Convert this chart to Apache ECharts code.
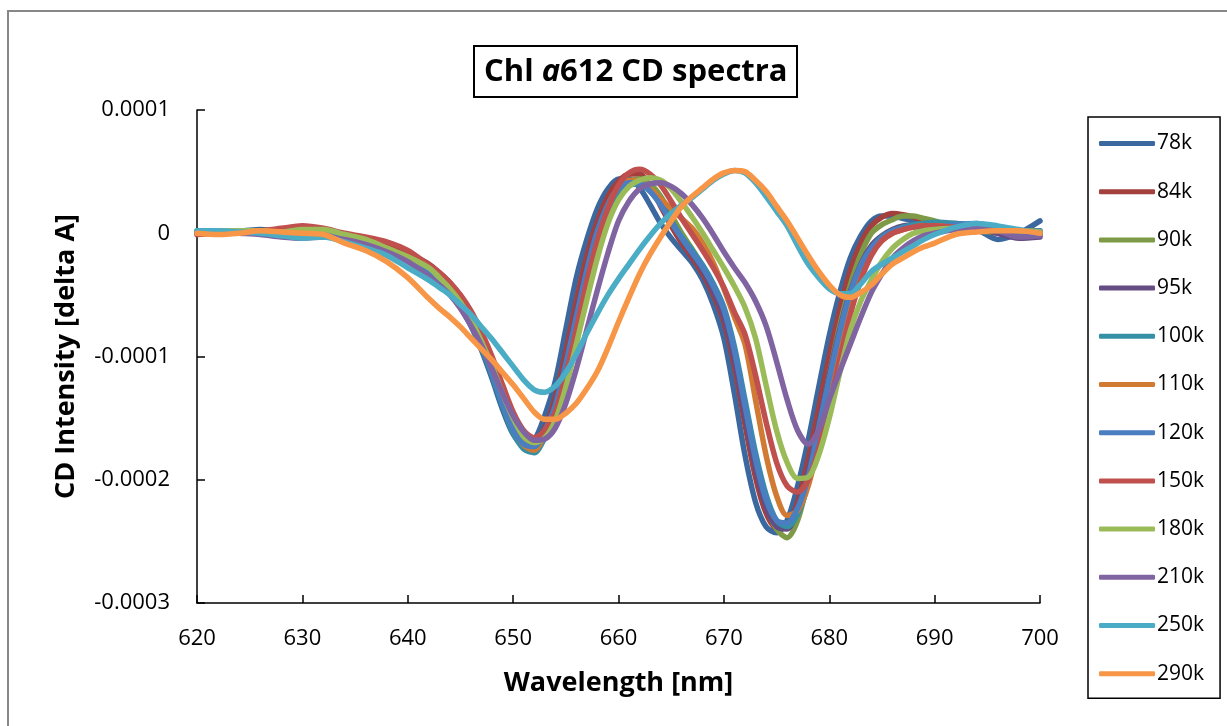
<!DOCTYPE html>
<html>
<head>
<meta charset="utf-8">
<script src="https://cdn.jsdelivr.net/npm/echarts@6/dist/echarts.min.js"></script>
<style>
html,body{margin:0;padding:0;background:#fff;}
#chart{width:1227px;height:726px;}
</style>
</head>
<body>
<div id="chart"></div>
<script>
// Wavelength [nm]
const wavelengths = [620,622,624,626,628,630,632,634,636,638,640,642,
  643,644,645,646,647,648,649,650,
  651,652,653,654,655,656,657,658,659,660,
  661,662,663,664,665,666,667,668,669,670,
  671,672,673,674,675,676,677,678,679,680,
  681,682,683,684,685,686,687,688,689,690,
  692,694,696,698,700];
// CD intensity values in units of 1e-5 delta A
const s78 = [0.1,0.2,0.2,0.3,0.1,0.1,0.0,-0.3,-0.7,-1.3,-2.1,-3.2,
  -4.0,-4.8,-6.0,-7.5,-9.5,-11.8,-14.3,-16.3,
  -17.2,-16.8,-14.8,-12.0,-7.8,-3.6,-0.5,2.0,3.6,4.4,
  4.4,3.7,2.3,0.8,-0.4,-1.4,-2.4,-3.8,-5.8,-8.5,
  -13.0,-18.0,-21.8,-23.8,-24.3,-23.3,-20.5,-16.8,-12.5,-8.3,
  -4.8,-2.0,-0.2,1.0,1.4,1.4,1.2,1.0,0.8,0.7,
  0.5,0.3,-0.5,0.0,1.0];
const s84 = [0.0,0.1,0.2,0.2,0.2,0.4,0.3,-0.1,-0.4,-0.8,-1.6,-2.5,
  -3.2,-4.0,-5.1,-6.6,-8.4,-10.6,-13.0,-15.3,
  -16.7,-17.0,-15.8,-13.3,-9.6,-5.5,-1.8,1.0,3.0,4.2,
  4.8,4.8,3.8,2.2,0.6,-0.8,-2.0,-3.3,-5.0,-7.2,
  -10.8,-15.5,-19.8,-22.7,-23.9,-23.8,-21.8,-18.3,-14.2,-10.0,
  -6.2,-3.0,-0.8,0.6,1.3,1.6,1.5,1.3,1.0,0.8,
  0.6,0.4,0.0,-0.2,0.0];
const s90 = [0.1,0.1,0.2,0.1,0.2,0.3,0.2,-0.2,-0.6,-1.2,-1.9,-2.8,
  -3.5,-4.4,-5.5,-6.8,-8.6,-10.8,-13.2,-15.5,
  -17.0,-17.4,-16.3,-14.2,-11.0,-7.0,-3.2,-0.2,2.0,3.5,
  4.2,4.4,4.0,3.0,1.5,0.0,-1.3,-2.7,-4.3,-6.3,
  -9.5,-14.0,-18.5,-22.0,-24.0,-24.7,-23.3,-20.0,-15.8,-11.5,
  -7.5,-4.2,-1.7,0.0,0.7,1.1,1.4,1.4,1.2,1.0,
  0.5,0.2,0.1,0.2,0.2];
const s95 = [0.0,0.1,0.1,0.2,0.0,0.1,-0.1,-0.4,-0.8,-1.4,-2.2,-3.3,
  -4.0,-4.8,-5.9,-7.3,-9.1,-11.3,-13.6,-15.8,
  -17.0,-17.3,-16.0,-13.8,-10.5,-6.5,-2.8,0.3,2.4,3.7,
  4.2,4.1,3.5,2.5,1.0,-0.4,-1.7,-3.0,-4.7,-6.8,
  -10.2,-14.8,-19.0,-22.2,-23.8,-24.0,-22.3,-19.3,-15.5,-11.5,
  -7.8,-4.7,-2.5,-1.0,-0.2,0.3,0.6,0.7,0.8,0.8,
  0.8,0.5,0.0,-0.4,-0.3];
const s100 = [0.2,0.2,0.1,0.1,0.0,0.0,-0.1,-0.3,-0.7,-1.3,-2.2,-3.3,
  -4.1,-4.9,-6.0,-7.5,-9.3,-11.5,-14.0,-16.2,
  -17.5,-17.8,-16.6,-14.6,-11.3,-7.5,-3.7,-0.6,1.7,3.2,
  3.9,4.0,3.4,2.4,1.0,-0.3,-1.4,-2.6,-4.1,-6.0,
  -9.2,-13.5,-17.8,-21.2,-23.3,-23.8,-22.8,-20.3,-16.3,-12.0,
  -8.2,-5.0,-2.7,-1.2,-0.3,0.2,0.5,0.7,0.8,0.9,
  0.8,0.6,0.3,0.0,0.0];
const s110 = [0.0,0.1,0.2,0.2,0.3,0.3,0.2,-0.3,-0.7,-1.2,-2.0,-3.0,
  -3.8,-4.6,-5.7,-7.0,-8.8,-11.0,-13.5,-15.7,
  -17.2,-17.6,-16.3,-14.3,-11.0,-7.0,-3.2,0.0,2.3,3.7,
  4.3,4.2,3.6,2.8,2.0,1.2,0.4,-0.8,-2.4,-4.5,
  -6.8,-9.0,-13.5,-18.0,-21.3,-22.9,-22.5,-20.5,-17.0,-12.8,
  -8.8,-5.5,-3.0,-1.5,-0.6,0.0,0.3,0.5,0.6,0.6,
  0.6,0.4,0.2,0.0,-0.1];
const s120 = [0.1,0.2,0.2,0.1,0.1,0.2,0.0,-0.3,-0.7,-1.3,-2.1,-3.2,
  -3.9,-4.7,-5.8,-7.2,-9.1,-11.3,-13.8,-15.9,
  -17.1,-17.3,-16.0,-14.0,-10.6,-6.8,-3.0,0.2,2.3,3.6,
  4.1,4.1,3.4,2.3,0.9,-0.4,-1.6,-2.8,-4.3,-6.2,
  -9.5,-14.0,-18.3,-21.6,-23.3,-23.5,-22.3,-19.8,-15.8,-11.8,
  -8.0,-4.8,-2.6,-1.2,-0.4,0.2,0.4,0.5,0.5,0.5,
  0.7,0.8,0.4,0.0,0.2];
const s150 = [-0.1,0.0,0.1,0.2,0.4,0.6,0.4,0.0,-0.3,-0.7,-1.4,-2.6,
  -3.2,-4.0,-5.0,-6.3,-8.0,-10.0,-12.3,-14.5,
  -16.0,-16.6,-16.0,-14.5,-11.5,-7.8,-3.9,-0.6,2.0,3.9,
  4.9,5.2,4.8,3.9,2.6,1.2,-0.1,-1.4,-2.8,-4.4,
  -6.4,-8.2,-11.5,-15.3,-18.6,-20.5,-21.0,-20.0,-17.5,-14.0,
  -10.2,-6.6,-3.8,-1.8,-0.6,0.0,0.3,0.5,0.6,0.6,
  0.5,0.6,0.4,0.2,0.0];
const s180 = [0.1,0.2,0.2,0.2,0.1,0.3,0.3,-0.1,-0.5,-1.2,-1.9,-2.8,
  -3.6,-4.5,-5.6,-7.0,-8.8,-10.8,-13.0,-15.0,
  -16.5,-17.0,-16.6,-15.2,-12.5,-9.0,-5.4,-2.0,0.8,2.7,
  3.8,4.3,4.5,4.3,3.6,2.5,1.3,0.0,-1.4,-2.8,
  -4.3,-6.0,-8.5,-12.3,-16.0,-18.6,-19.9,-19.8,-18.0,-15.0,
  -11.3,-7.9,-5.5,-3.8,-2.3,-1.2,-0.5,0.0,0.2,0.3,
  0.4,0.3,0.3,0.2,0.1];
const s210 = [0.0,0.1,0.0,-0.1,-0.3,-0.4,-0.3,-0.5,-0.9,-1.5,-2.3,-3.5,
  -4.2,-5.0,-6.1,-7.5,-9.1,-11.0,-13.0,-14.8,
  -16.1,-16.8,-16.7,-15.8,-13.8,-11.0,-7.8,-4.6,-1.6,1.0,
  2.6,3.6,4.0,4.1,3.8,3.2,2.3,1.2,-0.1,-1.5,
  -2.8,-4.0,-5.5,-7.5,-10.4,-13.5,-16.0,-17.1,-16.0,-13.5,
  -11.2,-9.0,-6.8,-4.8,-3.3,-2.0,-1.2,-0.6,-0.2,0.0,
  0.3,0.4,0.2,-0.3,-0.2];
const s250 = [0.2,0.2,0.1,0.0,-0.2,-0.4,-0.3,-0.7,-1.2,-1.8,-2.8,-3.8,
  -4.4,-5.0,-5.8,-6.6,-7.6,-8.6,-9.7,-10.8,
  -11.9,-12.7,-12.9,-12.4,-11.3,-9.8,-8.1,-6.5,-5.0,-3.7,
  -2.5,-1.3,-0.2,0.8,1.6,2.3,2.9,3.6,4.3,4.8,
  5.1,4.9,4.1,3.0,1.8,0.6,-1.0,-2.5,-3.6,-4.5,
  -4.9,-4.9,-4.1,-3.1,-2.5,-2.0,-1.5,-1.0,-0.5,-0.1,
  0.5,0.8,0.6,0.3,0.0];
const s290 = [0.0,-0.1,0.0,0.2,0.1,0.0,-0.1,-0.8,-1.4,-2.3,-3.6,-5.3,
  -6.1,-6.8,-7.6,-8.5,-9.4,-10.3,-11.3,-12.3,
  -13.4,-14.5,-15.1,-15.1,-14.6,-13.8,-12.6,-11.2,-9.3,-7.2,
  -5.2,-3.3,-1.7,-0.3,1.0,2.2,3.0,3.7,4.4,4.9,
  5.1,5.0,4.3,3.4,2.2,1.0,-0.4,-1.8,-3.1,-4.2,
  -5.0,-5.2,-4.8,-4.2,-3.3,-2.5,-2.0,-1.5,-1.1,-0.8,
  -0.1,0.1,0.2,0.2,0.0];

const seriesNames = ['78k','84k','90k','95k','100k','110k','120k','150k','180k','210k','250k','290k'];
const seriesValues = [s78,s84,s90,s95,s100,s110,s120,s150,s180,s210,s250,s290];
const seriesColors = ['#3c68a0','#a33f3c','#7f9a47','#644d83','#358fa5','#d07a34','#4a7ec0','#c0504d','#9bbb59','#8064a2','#4bacc6','#f79646'];

const xTicks = [620,630,640,650,660,670,680,690,700];
const yTickValues = [10,0,-10,-20,-30];
const yTickLabels = ['0.0001','0','-0.0001','-0.0002','-0.0003'];

const FONT = "'Open Sans','Noto Sans','Liberation Sans',sans-serif";

const chart = echarts.init(document.getElementById('chart'), null, {renderer:'canvas'});

const series = seriesNames.map((name, k) => ({
  name: name,
  type: 'line',
  smooth: 0.3,
  symbol: 'none',
  data: wavelengths.map((w, i) => [w, seriesValues[k][i]]),
  lineStyle: {width: 5.5, color: seriesColors[k], cap: 'round', join: 'round'},
  itemStyle: {color: seriesColors[k]},
  emphasis: {disabled: true},
  z: 2 + k
}));

chart.setOption({
  animation: false,
  backgroundColor: '#ffffff',
  title: {
    text: '{b|Chl }{i|a}{b|612 CD spectra}',
    left: 474, top: 42,
    borderColor: '#000', borderWidth: 2,
    padding: [11, 10, 10, 10],
    textStyle: {
      rich: {
        b: {fontFamily: FONT, fontWeight: 'bold', fontSize: 31, color: '#000', lineHeight: 38},
        i: {fontFamily: FONT, fontWeight: 'bold', fontStyle: 'italic', fontSize: 31, color: '#000', lineHeight: 38}
      }
    }
  },
  legend: {
    orient: 'vertical',
    left: 1088, top: 117,
    data: seriesNames,
    icon: 'roundRect',
    itemWidth: 56, itemHeight: 5,
    itemGap: 27.2,
    padding: [16, 16, 14, 11],
    borderColor: '#000', borderWidth: 1.5,
    textStyle: {fontFamily: FONT, fontSize: 21, color: '#000', lineHeight: 20, padding: [0,0,0,-3]}
  },
  grid: {left: 197, top: 110, right: 187, bottom: 123, containLabel: false},
  xAxis: {
    type: 'value', min: 620, max: 700, interval: 10,
    name: 'Wavelength [nm]', nameLocation: 'middle', nameGap: 67,
    nameTextStyle: {fontFamily: FONT, fontWeight: 'bold', fontSize: 27, color: '#000'},
    axisLine: {show: true, onZero: false, lineStyle: {color: '#000', width: 1.5}},
    axisTick: {show: true, inside: true, length: 8, lineStyle: {color: '#000', width: 1.5}},
    axisLabel: {fontFamily: FONT, fontSize: 22, color: '#000', margin: 25,
      formatter: v => xTicks.indexOf(v) >= 0 ? String(v) : ''},
    splitLine: {show: false}
  },
  yAxis: {
    type: 'value', min: -30, max: 10, interval: 10,
    name: 'CD Intensity [delta A]', nameLocation: 'middle', nameGap: 117, nameRotate: 90,
    nameTextStyle: {fontFamily: FONT, fontWeight: 'bold', fontSize: 27, color: '#000'},
    axisLine: {show: true, lineStyle: {color: '#000', width: 1.5}},
    axisTick: {show: true, inside: true, length: 8, lineStyle: {color: '#000', width: 1.5}},
    axisLabel: {fontFamily: FONT, fontSize: 22, color: '#000', margin: 27,
      formatter: v => { const idx = yTickValues.indexOf(Math.round(v)); return idx >= 0 ? yTickLabels[idx] : ''; }},
    splitLine: {show: false}
  },
  graphic: [{
    type: 'rect', silent: true, z: -1,
    shape: {x: 8, y: 11, width: 1400, height: 900},
    style: {fill: 'none', stroke: '#878787', lineWidth: 2}
  }],
  series: series
});
</script>
</body>
</html>
